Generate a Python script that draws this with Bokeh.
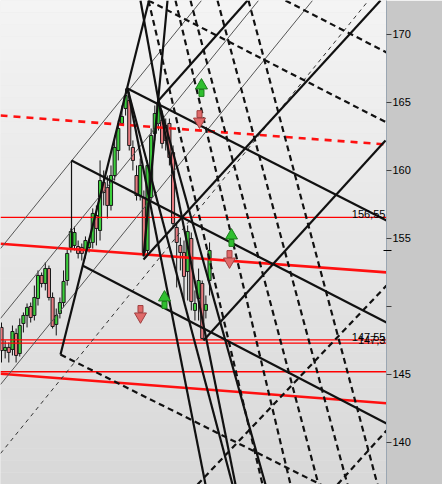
import numpy as np
from bokeh.plotting import figure
from bokeh.models import Range1d, FixedTicker, Label
from bokeh.embed import file_html
from bokeh.resources import INLINE

# ---------------- data ----------------
opens = [148.46,146.76,146.99,146.84,148.01,146.54,148.75,149.34,150.00,149.34,
         150.59,152.28,151.69,152.79,150.66,148.68,149.49,150.29,151.91,154.34,
         154.49,154.41,154.34,154.12,154.34,154.71,156.69,155.59,159.12,158.75,
         157.43,159.63,161.47,163.46,164.56,165.15,161.69,159.63,158.16,158.01,
         154.12,158.01,162.72,163.46,163.68,163.31,163.46,161.32,155.81,154.49,
         153.97,152.57,155.00,149.71,150.59,151.69,149.71,151.91]
highs = [148.82,147.50,147.35,148.60,148.38,149.12,149.56,150.22,150.29,151.54,
         152.65,152.50,153.24,153.01,151.03,149.85,150.66,152.65,154.26,155.74,
         155.88,154.85,154.63,155.15,155.00,157.21,157.43,160.74,160.00,159.63,
         160.37,162.57,163.68,164.78,166.03,165.74,162.21,160.37,160.88,158.53,
         160.74,163.09,164.78,165.44,164.41,163.82,163.82,161.84,156.18,155.07,
         154.85,155.96,155.44,151.18,152.79,151.91,150.81,154.71]
lows = [145.88,146.18,145.88,146.40,145.88,146.32,148.09,148.46,148.82,148.97,
        150.07,151.40,151.18,150.44,148.38,147.87,149.12,149.93,151.54,153.97,
        154.12,153.53,153.38,153.53,153.97,154.26,154.49,154.85,157.43,156.47,
        157.06,159.26,160.74,163.31,164.04,161.47,160.00,157.79,157.79,153.68,
        153.75,157.79,162.21,162.94,161.62,161.47,160.37,155.74,151.40,152.65,
        150.44,150.44,149.71,148.97,148.97,147.55,149.12,150.81]
closes = [146.76,146.99,146.62,148.16,146.40,148.60,149.34,149.93,149.19,150.66,
          152.28,151.69,152.79,150.66,148.53,149.34,150.29,151.84,153.90,155.51,
          155.44,153.90,153.90,154.85,154.71,156.84,155.74,159.26,158.38,157.43,
          159.63,161.69,163.09,163.97,165.51,161.84,160.74,158.16,160.37,153.97,
          160.37,162.57,164.19,165.00,161.99,162.21,160.96,156.10,154.71,153.97,
          152.21,155.51,150.37,150.22,151.91,147.65,150.15,154.12]
bars = list(range(len(opens)))

# thick solid trend lines (bar, price)
solid_x0 = [34.52, 19.18, 22.19, 16.16, 38.90, 55.34, 43.01, 38.90, 34.52, 34.52, 43.01, 43.01, 43.01]
solid_y0 = [166.03, 160.74, 153.01, 146.47, 153.68, 147.50, 165.15, 153.46, 166.03, 166.03, 165.15, 165.15, 165.15]
solid_x1 = [105.48, 105.48, 105.48, 40.41, 45.48, 105.21, 67.40, 103.84, 55.89, 63.29, 64.11, 72.33, 38.08]
solid_y1 = [156.32, 148.82, 141.40, 172.50, 172.50, 162.21, 172.50, 172.50, 136.91, 136.91, 136.91, 136.91, 172.50]

# thin vertical handle
handle_x = [19.18, 19.18]
handle_y = [160.74, 154.34]

# thin grey parallels
thin_x0 = [-0.27, -0.27, -0.27]
thin_y0 = [154.26, 149.12, 144.26]
thin_x1 = [54.79, 70.41, 85.21]
thin_y1 = [172.50, 172.50, 172.50]

# thin dashed median
tdash_x = [-0.27, 100.55]
tdash_y = [139.19, 172.50]

# thick dashed lines
dash_x0 = [40.27, 16.16, 77.81, 40.27, 47.67, 51.78, 59.18, 67.67, 53.70, 92.05]
dash_y0 = [172.50, 146.47, 172.50, 172.50, 172.50, 172.50, 172.50, 172.50, 136.91, 136.91]
dash_x1 = [105.48, 105.48, 105.48, 71.51, 79.18, 86.85, 94.79, 103.01, 105.48, 105.48]
dash_y1 = [163.53, 134.49, 168.68, 136.91, 136.91, 136.91, 136.91, 136.91, 151.54, 140.88]

# red channel
red_x0 = [-0.27, -0.27]
red_y0 = [154.61, 145.05]
red_x1 = [105.48, 105.48]
red_y1 = [152.51, 142.88]
reddash_x = [-0.27, 105.48]
reddash_y = [164.04, 161.91]
hlevels = [156.55, 147.55, 147.3, 145.2]
hlabels = ["156,55", "147,55", "147,3", ""]

# signal arrows
up_x = [54.79, 63.01, 44.66]
up_y = [166.03, 155.00, 150.44]
down_x = [54.25, 62.47, 38.08]
down_y = [163.82, 153.53, 149.49]

last_price = 154.12
last_label = "154,12"
ticks = [140, 145, 150, 155, 160, 165, 170]

# ---------------- figure ----------------
XMIN, XMAX = -0.274, 105.48
YMIN, YMAX = 136.91, 172.50
p = figure(width=442, height=484, x_range=Range1d(XMIN, XMAX), y_range=Range1d(YMIN, YMAX),
           output_backend="svg", toolbar_location=None,
           x_axis_location=None, y_axis_location="right")
p.min_border_left = 0
p.min_border_top = 0
p.min_border_bottom = 0
p.min_border_right = 56
p.border_fill_color = "#c8c8c8"
p.outline_line_color = None
p.xgrid.visible = False
p.ygrid.visible = False
p.background_fill_color = "#e6e6e6"

# gradient background
n = 40
edges = np.linspace(YMIN, YMAX, n + 1)
cols = []
for k in range(n):
    t = (k + 0.5) / n
    g = int(round(216 + (244 - 216) * t))
    cols.append("#%02x%02x%02x" % (g, g, g))
p.quad(left=XMIN - 1, right=XMAX + 1, bottom=edges[:-1], top=edges[1:], fill_color=cols, line_color=None)

# axis
ax = p.yaxis[0]
ax.ticker = FixedTicker(ticks=ticks, minor_ticks=[last_price])
ax.major_label_overrides = {150: " "}
ax.major_tick_out = 5
ax.major_tick_in = 0
ax.minor_tick_out = 5
ax.minor_tick_in = 3
ax.minor_tick_line_color = "#000000"
ax.major_tick_line_color = "#404040"
ax.axis_line_color = "#9aa6b2"
ax.major_label_standoff = 1
ax.major_label_text_font = "Liberation Sans"
ax.major_label_text_font_size = "11px"
ax.major_label_text_color = "#000000"

# candles
inc = [c >= o for o, c in zip(opens, closes)]
top = [max(o, c) for o, c in zip(opens, closes)]
bot = [min(o, c) for o, c in zip(opens, closes)]
colors = ["#3ccf3c" if u else "#e77b80" for u in inc]
p.segment(bars, highs, bars, lows, color="#111111", line_width=1)
p.vbar(x=bars, top=top, bottom=bot, width=0.85, fill_color=colors, line_color="#1a1a1a", line_width=1)

# red lines
for lv in hlevels:
    p.segment([XMIN], [lv], [XMAX], [lv], color="#ff0000", line_width=1.3)
p.segment(red_x0, red_y0, red_x1, red_y1, color="#ff1010", line_width=2.6)
p.line(reddash_x, reddash_y, color="#ff1010", line_width=2.6, line_dash="7 6")

# black lines
p.segment(thin_x0, thin_y0, thin_x1, thin_y1, color="#555555", line_width=1)
p.line(tdash_x, tdash_y, color="#333333", line_width=1, line_dash="4 4")
p.line(handle_x, handle_y, color="#111111", line_width=1.2)
p.segment(solid_x0, solid_y0, solid_x1, solid_y1, color="#111111", line_width=2.2)
p.segment(dash_x0, dash_y0, dash_x1, dash_y1, color="#111111", line_width=2.2, line_dash="6 4")

# arrows
p.rect(x=up_x, y=[v - 0.33 for v in up_y], width=5, height=0.5, width_units="screen",
       fill_color="#2fbf2f", line_color="#1c7d1c")
p.scatter(x=up_x, y=[v + 0.22 for v in up_y], marker="triangle", size=12,
          fill_color="#2fbf2f", line_color="#1c7d1c")
p.rect(x=down_x, y=[v + 0.33 for v in down_y], width=5, height=0.5, width_units="screen",
       fill_color="#e06a6a", line_color="#a04040")
p.scatter(x=down_x, y=[v - 0.22 for v in down_y], marker="inverted_triangle", size=12,
          fill_color="#e06a6a", line_color="#a04040")

# level labels
for lv, tx in zip(hlevels, hlabels):
    if tx:
        p.add_layout(Label(x=XMAX - 0.3, y=lv, text=tx, text_align="right", text_baseline="bottom",
                           text_font="Liberation Sans", text_font_size="11px", text_color="#000000",
                           y_offset=-1))

# bold 150 tick label
p.add_layout(Label(x=107.12, y=150, text="150", text_font_style="bold", text_baseline="middle",
                   text_align="left", text_font="Liberation Sans", text_font_size="11px",
                   text_color="#000000"))
# last price box
p.add_layout(Label(x=106.6, y=last_price, text=last_label, text_baseline="middle", text_align="left",
                   text_font="Liberation Sans", text_font_size="11px", text_color="#000000",
                   background_fill_color="#f7c300", border_line_color="#8a9aaa", padding=2))

open("out.html", "w").write(file_html(p, INLINE))
